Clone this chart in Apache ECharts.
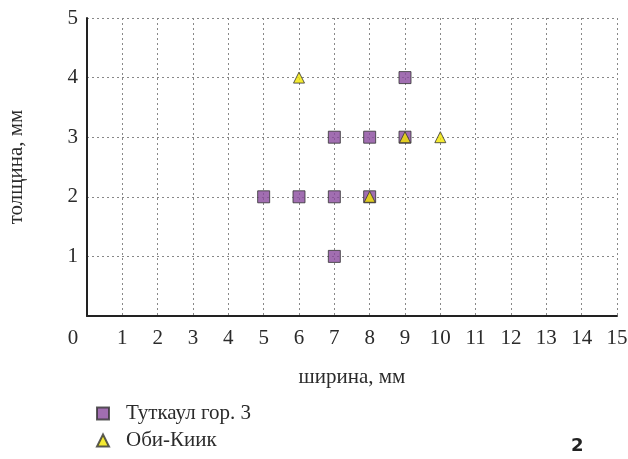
<!DOCTYPE html>
<html>
<head>
<meta charset="utf-8">
<script src="https://cdn.jsdelivr.net/npm/echarts@6/dist/echarts.min.js"></script>
<style>
html, body { margin: 0; padding: 0; background: #fff; }
#box { width: 628px; height: 459px; }
</style>
</head>
<body>
<div id="box"></div>
<script>
var tutkaul = [[5, 2], [6, 2], [7, 2], [8, 2], [7, 1], [7, 3], [8, 3], [9, 3], [9, 4]];
var obiKiik = [[6, 4], [8, 2], [9, 3], [10, 3]];
var xName = 'ширина, мм';
var yName = 'толщина, мм';
var seriesNames = ['Туткаул гор. 3', 'Оби-Киик'];

var chart = echarts.init(document.getElementById('box'));
var serif = '"Liberation Serif", "DejaVu Serif", serif';
var ink = '#2b2b2b';
var gridLine = { show: true, lineStyle: { color: '#888', type: [2, 3], width: 1 } };

var option = {
    animation: false,
    grid: { left: 87, right: 11, top: 18, bottom: 143, containLabel: false, outerBoundsMode: 'none' },
    legend: {
        orient: 'vertical',
        left: 91,
        top: 398,
        itemWidth: 12,
        itemHeight: 12,
        itemGap: 6,
        textStyle: { fontFamily: serif, fontSize: 21, color: ink, padding: [0, 0, 0, 12] },
        data: [
            { name: seriesNames[0], icon: 'rect' },
            { name: seriesNames[1], icon: 'triangle' }
        ]
    },
    xAxis: {
        type: 'value',
        min: 0,
        max: 15,
        interval: 1,
        name: xName,
        nameLocation: 'middle',
        nameGap: 51,
        nameTextStyle: { fontFamily: serif, fontSize: 21, color: ink },
        axisLine: { show: true, lineStyle: { color: '#222', width: 2 } },
        axisTick: { show: false },
        splitLine: gridLine,
        axisLabel: {
            fontFamily: serif,
            fontSize: 21,
            color: ink,
            margin: 12,
            formatter: function (v) { return v === 0 ? '{z|0}' : String(v); },
            rich: { z: { fontFamily: serif, fontSize: 21, color: ink, padding: [0, 28, 0, 0] } }
        }
    },
    yAxis: {
        type: 'value',
        min: 0,
        max: 5,
        interval: 1,
        name: yName,
        nameLocation: 'middle',
        nameGap: 60,
        nameRotate: 90,
        nameTextStyle: { fontFamily: serif, fontSize: 21, color: ink },
        axisLine: { show: true, lineStyle: { color: '#222', width: 2 } },
        axisTick: { show: false },
        splitLine: gridLine,
        axisLabel: {
            fontFamily: serif,
            fontSize: 21,
            color: ink,
            margin: 9,
            formatter: function (v) { return v === 0 ? '' : String(v); }
        }
    },
    series: [
        {
            name: seriesNames[0],
            type: 'scatter',
            symbol: 'rect',
            symbolSize: 12,
            itemStyle: { color: '#8a4a9e', borderColor: '#333', borderWidth: 1 },
            data: tutkaul,
            z: 2
        },
        {
            name: seriesNames[1],
            type: 'scatter',
            symbol: 'triangle',
            symbolSize: 11,
            itemStyle: { color: '#f2e600', borderColor: '#333', borderWidth: 1 },
            data: obiKiik,
            z: 3
        }
    ],
    graphic: [
        {
            type: 'text',
            left: 571,
            top: 437,
            style: { text: '2', fontFamily: '"DejaVu Sans", sans-serif', fontSize: 18, fontWeight: 'bold', fill: '#222' }
        }
    ]
};

chart.setOption(option);
</script>
</body>
</html>
